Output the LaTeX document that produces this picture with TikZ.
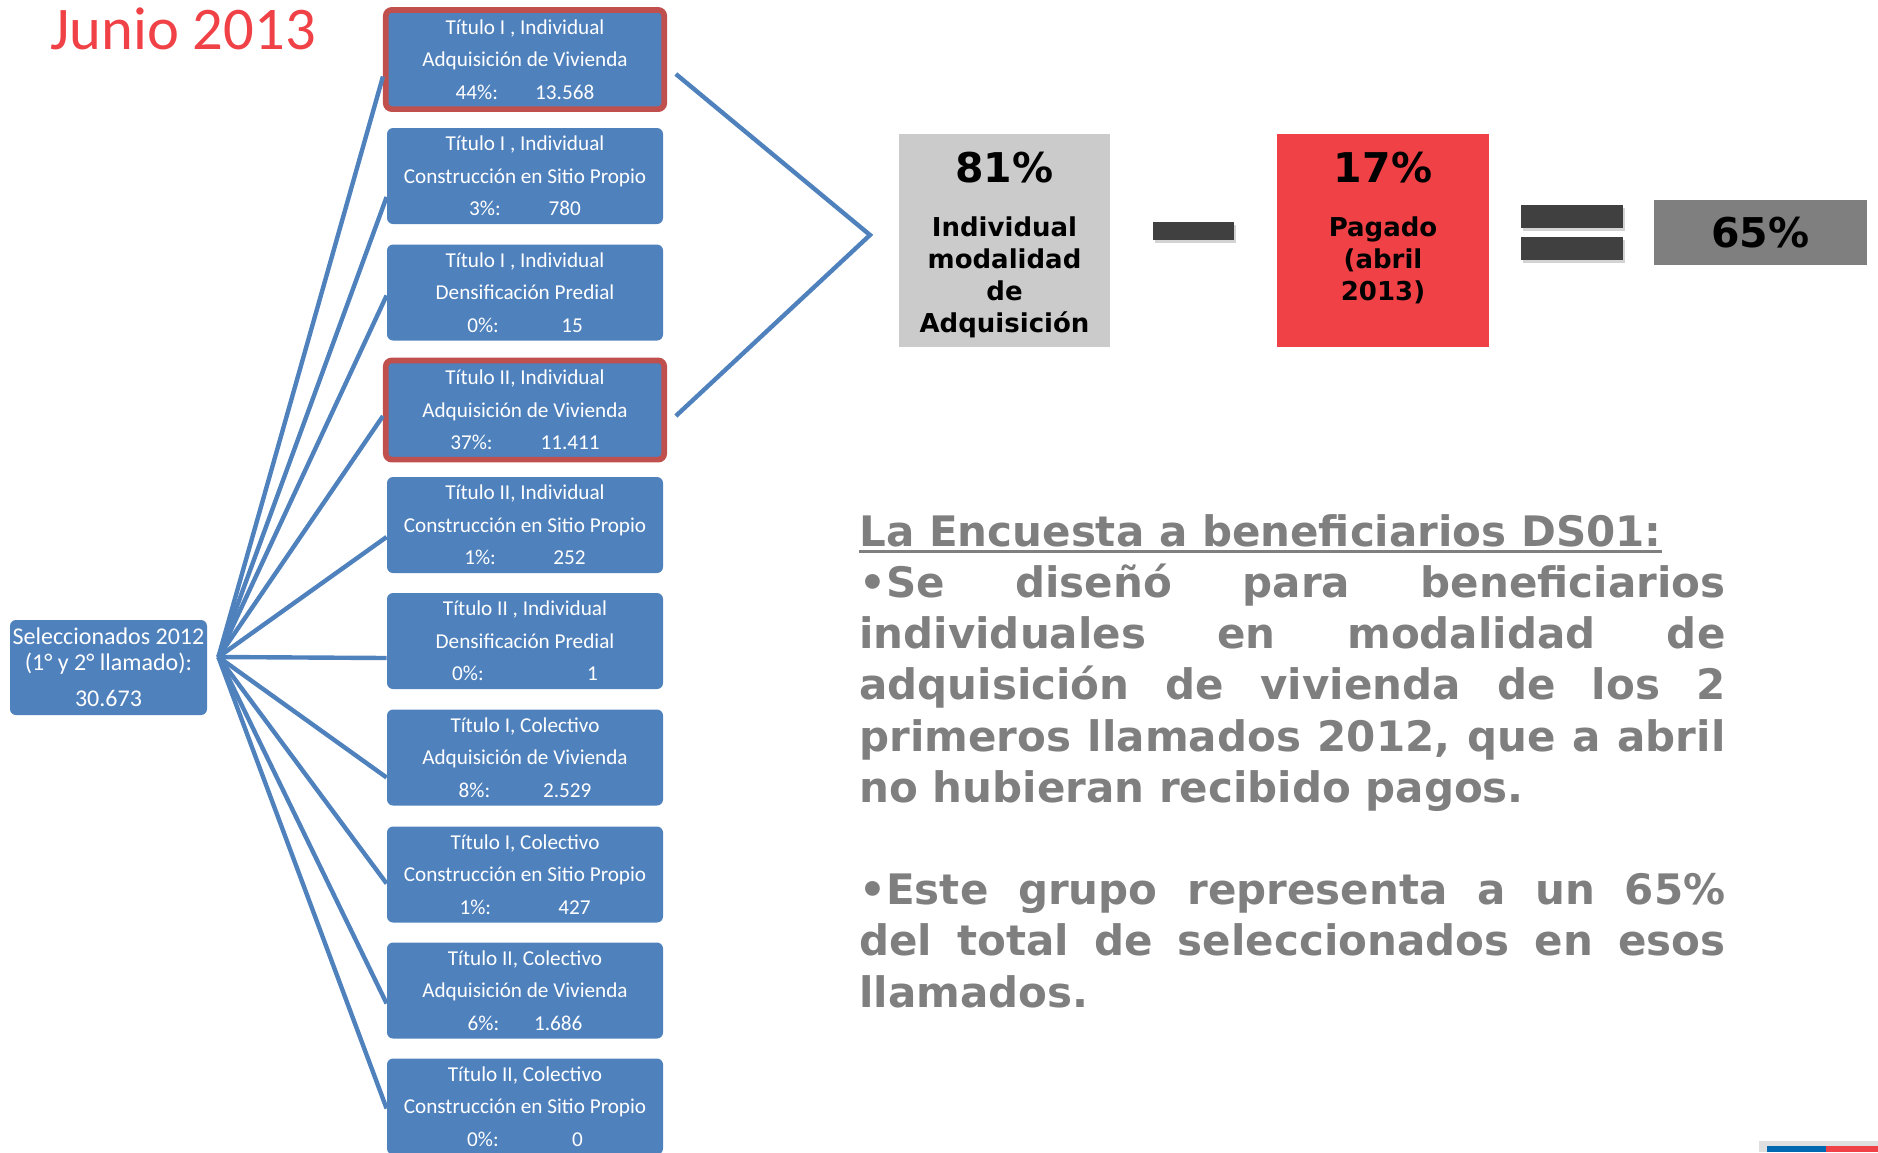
\documentclass[tikz,border=0pt]{standalone}
\usepackage{fontspec}
\setmainfont{Carlito}
\newfontfamily\verdana{DejaVu Sans}
\usetikzlibrary{shadows}

\definecolor{azulcaja}{HTML}{4F81BD}
\definecolor{rojoborde}{HTML}{C0504D}
\definecolor{rojo}{HTML}{EF4146}
\definecolor{grisclaro}{HTML}{CBCBCB}
\definecolor{grismedio}{HTML}{7F7F7F}
\definecolor{grisoscuro}{HTML}{404040}
\definecolor{gristexto}{HTML}{7F7F7F}
\definecolor{azulbandera}{HTML}{0067B1}

\newcommand{\renglon}[1]{\makebox[433pt][s]{#1}}
\newlength{\anchosub}
\newcommand{\subrayado}[1]{\settowidth{\anchosub}{#1}\rlap{\rule[-3.2pt]{\anchosub}{1.2pt}}#1}

\tikzset{
  caja/.style={rectangle, rounded corners=3pt, fill=azulcaja, text=white, minimum width=138pt, minimum height=48pt, inner sep=0pt, align=center, font=\fontsize{10.6}{16.2}\selectfont},
  marcada/.style={caja, draw=rojoborde, line width=2.85pt, minimum width=139.2pt, minimum height=49.6pt},
  rama/.style={draw=azulcaja, line width=2.2pt},
  bloque/.style={rectangle, inner sep=0pt},
  cifra/.style={font=\verdana\bfseries\fontsize{20.5}{24}\selectfont},
  rotulo/.style={font=\verdana\bfseries\fontsize{13}{16}\selectfont, align=center},
  signo/.style={rectangle, fill=grisoscuro, inner sep=0pt, drop shadow={opacity=0.35, shadow xshift=1pt, shadow yshift=-1.5pt}}
}

\begin{document}
\begin{tikzpicture}[x=0.5pt, y=-0.5pt]
\useasboundingbox (0,0) rectangle (1878,1152);

\node[anchor=base west, inner sep=0pt, text=rojo, font=\fontsize{30.3}{36}\selectfont] (fecha) at (50,49) {Junio 2013};

\node[caja, minimum width=98.5pt, minimum height=47.5pt, font=\fontsize{12}{13}\selectfont] (sel) at (108.5,667.5) {Seleccionados 2012\\(1° y 2° llamado):\\[5pt]30.673};

\node[marcada] (t1) at (525,59.5) {Título I , Individual\\Adquisición de Vivienda\\44\%:\hspace{18.6pt}13.568};
\node[caja] (t2) at (525,176) {Título I , Individual\\Construcción en Sitio Propio\\3\%:\hspace{24pt}780};
\node[caja] (t3) at (525,292.5) {Título I , Individual\\Densificación Predial\\0\%:\hspace{31.2pt}15};
\node[marcada] (t4) at (525,410) {Título II, Individual\\Adquisición de Vivienda\\37\%:\hspace{24pt}11.411};
\node[caja] (t5) at (525,525) {Título II, Individual\\Construcción en Sitio Propio\\1\%:\hspace{28.8pt}252};
\node[caja] (t6) at (525,641) {Título II , Individual\\Densificación Predial\\0\%:\hspace{51.6pt}1};
\node[caja] (t7) at (525,757.5) {Título I, Colectivo\\Adquisición de Vivienda\\8\%:\hspace{26.4pt}2.529};
\node[caja] (t8) at (525,874.5) {Título I, Colectivo\\Construcción en Sitio Propio\\1\%:\hspace{33.6pt}427};
\node[caja] (t9) at (525,990.5) {Título II, Colectivo\\Adquisición de Vivienda\\6\%:\hspace{17.4pt}1.686};
\node[caja] (t10) at (525,1106.5) {Título II, Colectivo\\Construcción en Sitio Propio\\0\%:\hspace{36.6pt}0};

% ramas desde los seleccionados
\coordinate (nudo) at ([xshift=5.5pt,yshift=5.25pt]sel.east);
\draw[rama] (nudo) -- ([yshift=-8.5pt]t1.west);
\draw[rama] (nudo) -- ([yshift=-10.5pt]t2.west);
\draw[rama] (nudo) -- ([yshift=-1.5pt]t3.west);
\draw[rama] (nudo) -- ([yshift=-3pt]t4.west);
\draw[rama] (nudo) -- ([yshift=-6pt]t5.west);
\draw[rama] (nudo) -- ([yshift=-8.5pt]t6.west);
\draw[rama] (nudo) -- ([yshift=-10pt]t7.west);
\draw[rama] (nudo) -- ([yshift=-4.5pt]t8.west);
\draw[rama] (nudo) -- ([yshift=-6.5pt]t9.west);
\draw[rama] (nudo) -- ([yshift=-1pt]t10.west);

% llave hacia la operacion
\coordinate (pico) at (870,235);
\draw[rama] ([xshift=4.4pt,yshift=-7.25pt]t1.east) -- (pico) -- ([xshift=4.4pt,yshift=-3pt]t4.east);

\node[bloque, fill=grisclaro, minimum width=105.5pt, minimum height=106.5pt] (ind) at (1004.5,240.5) {};
\node[cifra] (ind81) at (1004.5,168) {81\%};
\node[rotulo] (indtxt) at (1004.5,277) {Individual\\modalidad\\de\\Adquisición};

\node[signo, minimum width=40.5pt, minimum height=9pt] (menos) at (1193.5,231) {};

\node[bloque, fill=rojo, minimum width=106pt, minimum height=106.5pt] (pag) at (1383,240.5) {};
\node[cifra] (pag17) at (1383,168) {17\%};
\node[rotulo] (pagtxt) at (1383,260.5) {Pagado\\(abril\\2013)};

\node[signo, minimum width=51pt, minimum height=11.5pt] (igual1) at (1572,216.5) {};
\node[signo, minimum width=51pt, minimum height=11.5pt] (igual2) at (1572,248.5) {};

\node[bloque, fill=grismedio, minimum width=106.5pt, minimum height=32.5pt, cifra] (res) at (1760.5,232.5) {65\%};

\node[anchor=north west, inner sep=0pt, align=left, text=gristexto, font=\verdana\bfseries\fontsize{21}{25.6}\selectfont] (encuesta) at (859,514) {\subrayado{La Encuesta a beneficiarios DS01:}\\
\renglon{•Se diseñó para beneficiarios}\\
\renglon{individuales en modalidad de}\\
\renglon{adquisición de vivienda de los 2}\\
\renglon{primeros llamados 2012, que a abril}\\
no hubieran recibido pagos.\\[25.6pt]
\renglon{•Este grupo representa a un 65\%}\\
\renglon{del total de seleccionados en esos}\\
llamados.};

\fill[gray!25] (1759,1141) rectangle (1878,1152);
\fill[azulbandera] (1767,1146) rectangle (1826,1152);
\fill[rojo] (1826,1146) rectangle (1878,1152);
\end{tikzpicture}
\end{document}
